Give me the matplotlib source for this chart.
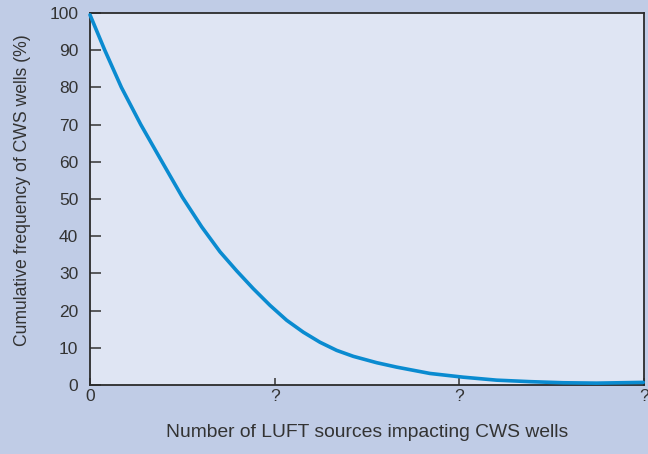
import numpy as np
import matplotlib
matplotlib.use('Agg')
import matplotlib.pyplot as plt

plt.rcParams['font.family'] = ['Liberation Sans', 'DejaVu Sans']

# curve (x in tick units, y in %)
sources = [0.0, 0.08, 0.17, 0.275, 0.39, 0.50, 0.605, 0.704, 0.794, 0.884,
           0.975, 1.065, 1.155, 1.245, 1.336, 1.426, 1.552, 1.661, 1.841, 2.021,
           2.202, 2.382, 2.563, 2.743, 2.996]
freq = [99.5, 90, 80, 70, 60, 50.5, 42.5, 35.8, 30.7, 25.9,
        21.4, 17.4, 14.2, 11.5, 9.3, 7.7, 6.0, 4.8, 3.1, 2.1,
        1.3, 0.9, 0.6, 0.5, 0.7]

x_ticks = [0, 1, 2, 3]
x_labels = ['0', '?', '?', '?']
y_ticks = [0, 10, 20, 30, 40, 50, 60, 70, 80, 90, 100]

text_col = '#333333'

fig = plt.figure(figsize=(6.48, 4.54), dpi=100, facecolor='#c0cce6')
ax = fig.add_axes([0.1389, 0.152, 0.8549, 0.8194], facecolor='#dfe5f3')

ax.plot(sources, freq, color='#0a8bd0', lw=2.6, solid_capstyle='round',
        solid_joinstyle='round', clip_on=False, zorder=3)

ax.set_xlim(0, 3)
ax.set_ylim(0, 100)
ax.set_xticks(x_ticks)
ax.set_xticklabels(x_labels)
ax.set_yticks(y_ticks)

ax.tick_params(axis='y', direction='in', length=8, width=1.1, pad=8.5,
               labelsize=12.5, colors=text_col)
ax.tick_params(axis='x', direction='in', length=5, width=1.1, pad=3,
               labelsize=12.5, colors=text_col)

for s in ax.spines.values():
    s.set_color('#2b2b2b')
    s.set_linewidth(1.3)

ax.set_ylabel('Cumulative frequency of CWS wells (%)', fontsize=12.7, color=text_col)
ax.yaxis.set_label_coords(-0.106, 0.524)
ax.set_xlabel('Number of LUFT sources impacting CWS wells', fontsize=13.9, color=text_col, labelpad=14)

fig.savefig('out.png', dpi=100, facecolor=fig.get_facecolor())
